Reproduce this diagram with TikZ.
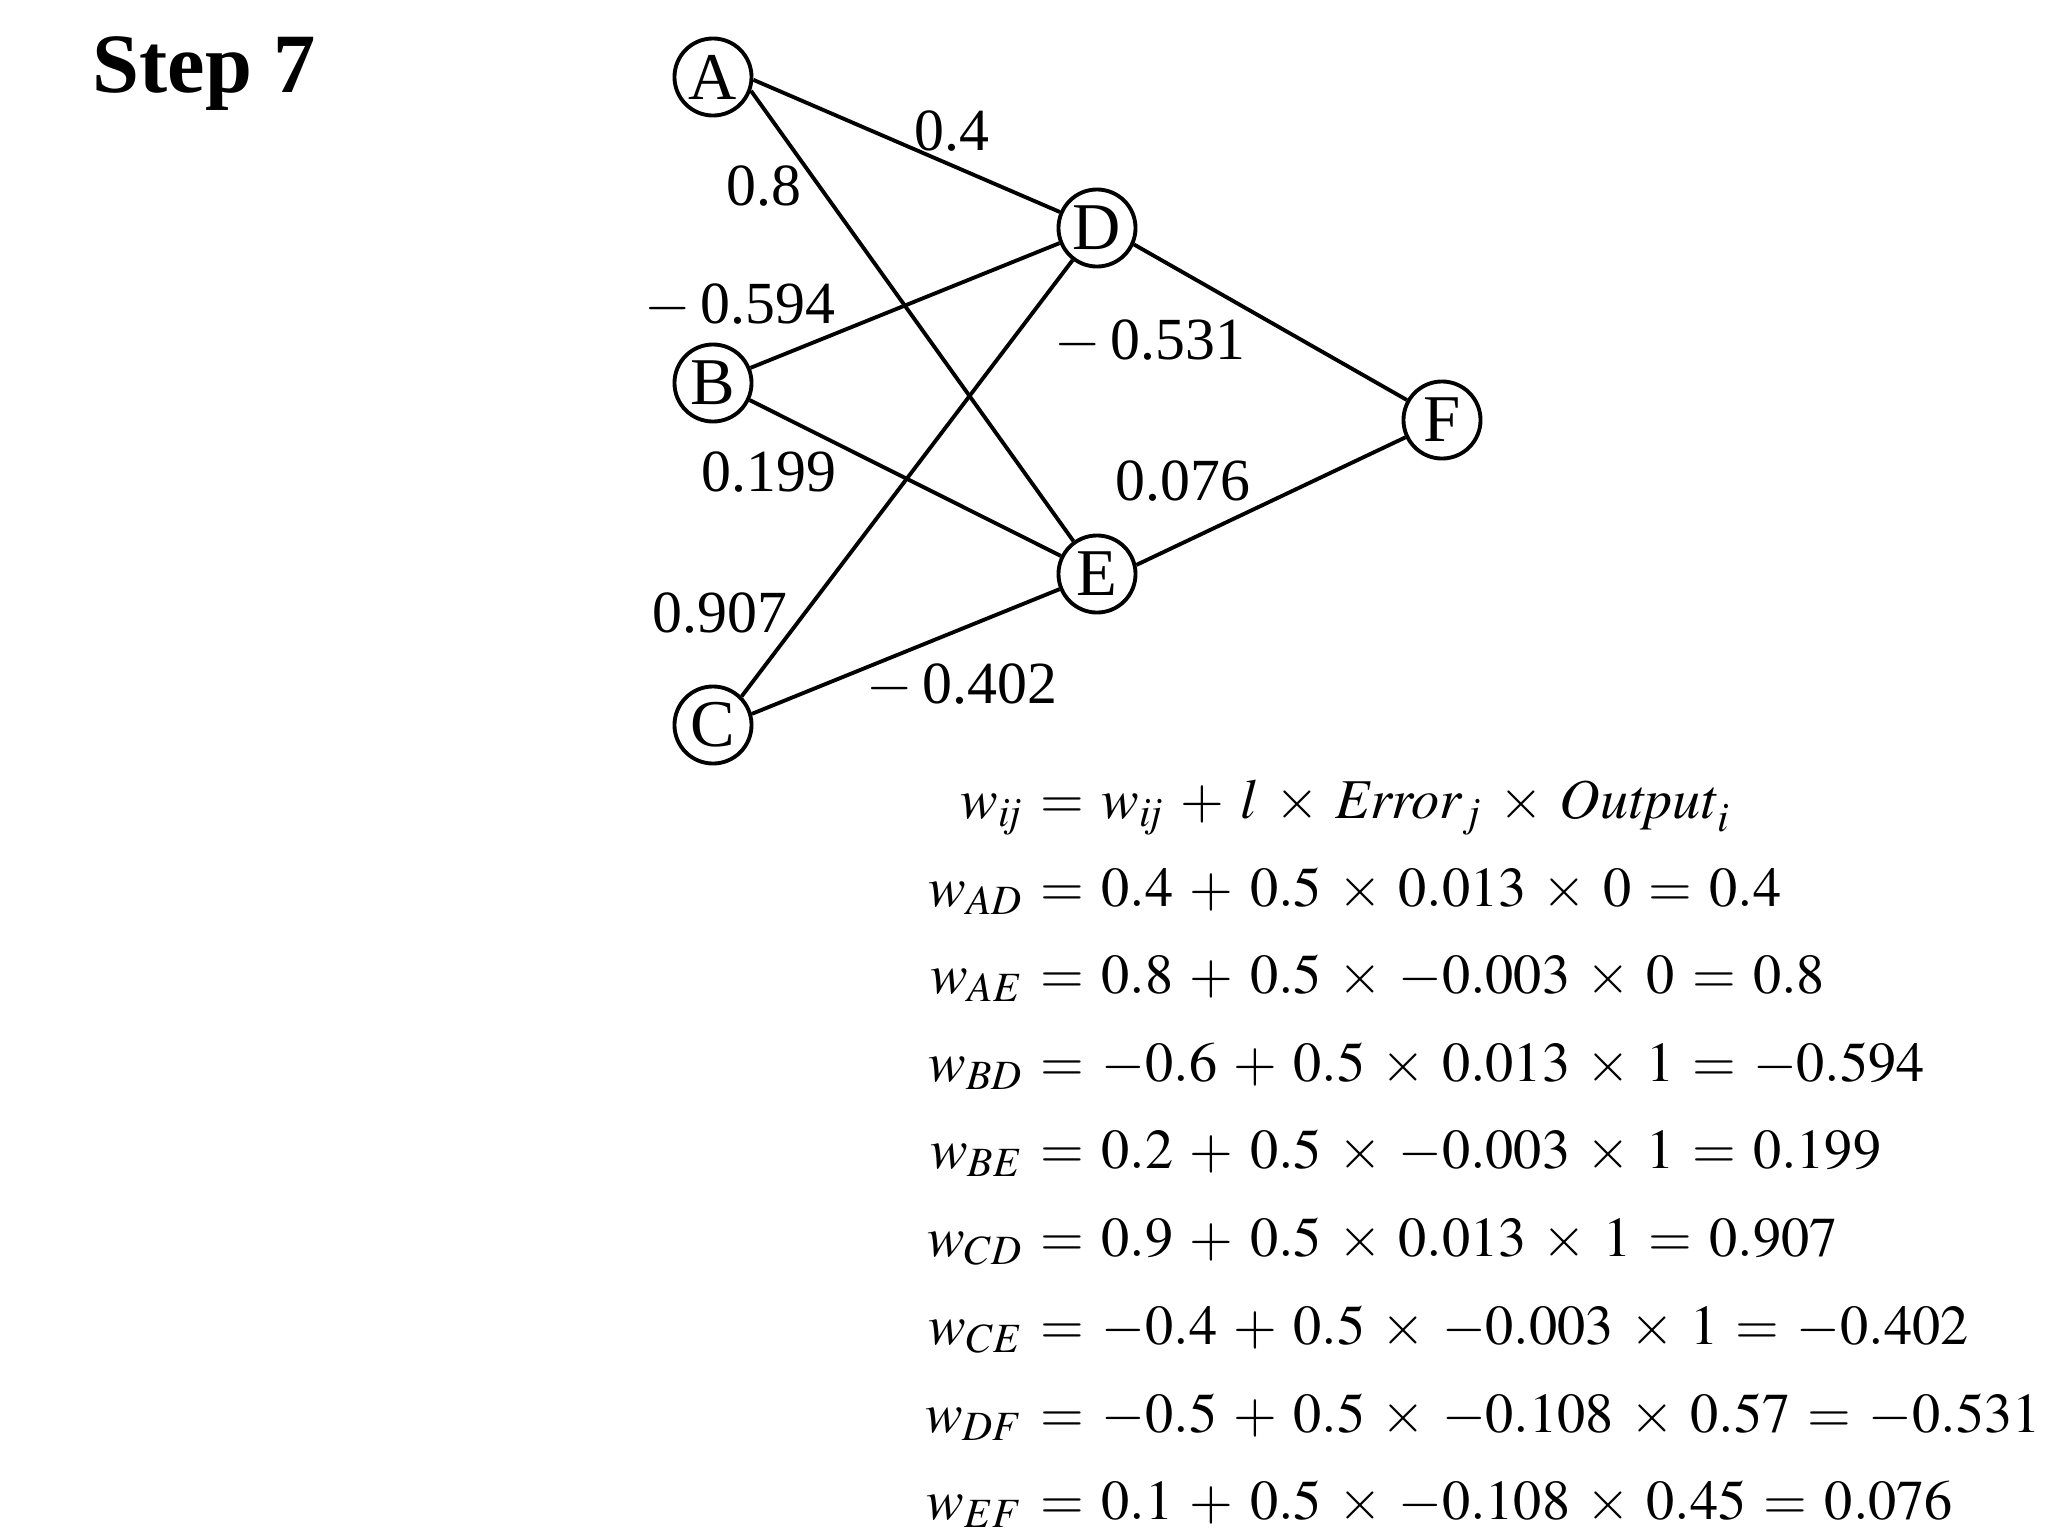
\documentclass[tikz,border=0pt]{standalone}
\usepackage{mathptmx}
\usepackage{fontspec}
\setmainfont{Liberation Serif}
\medmuskip=5.25mu plus 1mu minus 1mu
\thickmuskip=5.5mu plus 1mu minus 1mu

\begin{document}
\begin{tikzpicture}[
    x=0.01cm, y=-0.01cm,
    neuron/.style={circle, draw, line width=1.1pt, minimum size=0.77cm,
                   inner sep=0pt, font=\fontsize{19}{22}\selectfont},
    link/.style={line width=1.1pt},
    weight/.style={anchor=base, inner sep=0pt, font=\fontsize{17}{20}\selectfont},
    lhs/.style={anchor=base east, inner sep=0pt, font=\fontsize{16}{19}\selectfont},
    rhs/.style={anchor=base west, inner sep=0pt, font=\fontsize{16}{19}\selectfont}
]
\useasboundingbox (0,0) rectangle (2048,1536);
\node[anchor=base west, inner sep=0pt, font=\fontsize{24}{28}\selectfont\bfseries]
    (title) at (92,92) {Step 7};

\node[neuron] (A) at (713,77) {A};
\node[neuron] (B) at (713,383) {B};
\node[neuron] (C) at (713,725) {C};
\node[neuron] (D) at (1097,228) {D};
\node[neuron] (E) at (1097,574) {E};
\node[neuron] (F) at (1442,420) {F};
\draw[link] (A.-4) -- (D);
\draw[link] (A.-20) -- (E);
\draw[link] (B.22) -- (D);
\draw[link] (B.-25) -- (E);
\draw[link] (C.45) -- (D);
\draw[link] (C.16) -- (E);
\draw[link] (D.-24) -- (F);
\draw[link] (E.13) -- (F);
\node[weight] (wad) at (952,150) {0.4};
\node[weight] (wae) at (764,205) {0.8};
\node[weight] (wbd) at (740,323) {$-$\,0.594};
\node[weight] (wdf) at (1150,359) {$-$\,0.531};
\node[weight] (wbe) at (769,491) {0.199};
\node[weight] (wef) at (1183,500) {0.076};
\node[weight] (wcd) at (720,632) {0.907};
\node[weight] (wce) at (962,703) {$-$\,0.402};

\node[lhs] (e0l) at (1024,818) {$w_{\mathit{ij}}$};
\node[rhs] (e0r) at (1040,818) {$= w_{\mathit{ij}} + l \times \mathit{Error}_j \times \mathit{Output}_i$};
\node[lhs] (e1l) at (1024,906) {$w_{AD}$};
\node[rhs] (e1r) at (1040,906) {$= 0.4 + 0.5 \times 0.013 \times 0 = 0.4$};
\node[lhs] (e2l) at (1024,993) {$w_{AE}$};
\node[rhs] (e2r) at (1040,993) {$= 0.8 + 0.5 \times -0.003 \times 0 = 0.8$};
\node[lhs] (e3l) at (1024,1081) {$w_{BD}$};
\node[rhs] (e3r) at (1040,1081) {$= -0.6 + 0.5 \times 0.013 \times 1 = -0.594$};
\node[lhs] (e4l) at (1024,1168) {$w_{BE}$};
\node[rhs] (e4r) at (1040,1168) {$= 0.2 + 0.5 \times -0.003 \times 1 = 0.199$};
\node[lhs] (e5l) at (1024,1256) {$w_{CD}$};
\node[rhs] (e5r) at (1040,1256) {$= 0.9 + 0.5 \times 0.013 \times 1 = 0.907$};
\node[lhs] (e6l) at (1024,1344) {$w_{CE}$};
\node[rhs] (e6r) at (1040,1344) {$= -0.4 + 0.5 \times -0.003 \times 1 = -0.402$};
\node[lhs] (e7l) at (1024,1432) {$w_{DF}$};
\node[rhs] (e7r) at (1040,1432) {$= -0.5 + 0.5 \times -0.108 \times 0.57 = -0.531$};
\node[lhs] (e8l) at (1024,1519) {$w_{EF}$};
\node[rhs] (e8r) at (1040,1519) {$= 0.1 + 0.5 \times -0.108 \times 0.45 = 0.076$};
\end{tikzpicture}
\end{document}
